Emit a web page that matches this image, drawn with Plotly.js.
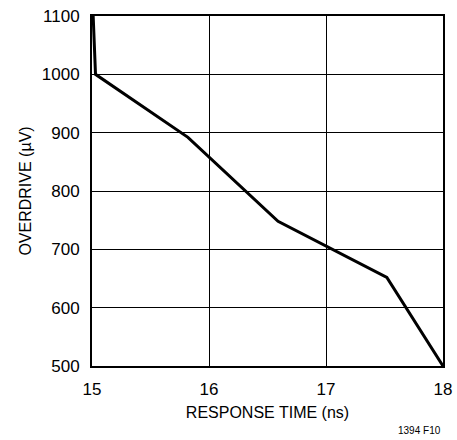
<!DOCTYPE html>
<html><head><meta charset="utf-8">
<script src="https://cdn.plot.ly/plotly-3.0.1.min.js"></script>
<style>html,body{margin:0;padding:0;background:#fff}</style>
</head><body>
<div id="chart" style="width:457px;height:440px"></div>
<script>
const responseTime = [15.01, 15.03, 15.82, 16.59, 17.52, 18.0];
const overdrive = [1100, 1000, 892, 748, 652, 500];
const xTicks = [15, 16, 17, 18];
const yTicks = [500, 600, 700, 800, 900, 1000, 1100];
const FONT = '"Liberation Sans", Arial, sans-serif';

Plotly.newPlot('chart', [{
  x: responseTime, y: overdrive, type: 'scatter', mode: 'lines',
  line: {color: '#000', width: 3}, hoverinfo: 'skip'
}], {
  width: 457, height: 440,
  margin: {l: 92, r: 14, t: 16, b: 74, pad: 0},
  paper_bgcolor: '#fff', plot_bgcolor: '#fff',
  showlegend: false,
  font: {family: FONT, color: '#000', size: 16},
  xaxis: {
    range: [15, 18], tickvals: xTicks, ticktext: xTicks.map(String),
    showgrid: true, gridcolor: '#000', gridwidth: 1,
    showline: true, linecolor: '#000', linewidth: 2, mirror: true,
    ticks: '', zeroline: false, tickfont: {size: 17}, ticklabelstandoff: 7,
    title: {text: 'RESPONSE TIME (ns)', font: {size: 16}, standoff: 8}
  },
  yaxis: {
    range: [500, 1100], tickvals: yTicks, ticktext: yTicks.map(String),
    showgrid: true, gridcolor: '#000', gridwidth: 1,
    showline: true, linecolor: '#000', linewidth: 2, mirror: true,
    ticks: '', zeroline: false, tickfont: {size: 17}, ticklabelstandoff: 7,
    title: {text: 'OVERDRIVE (µV)', font: {size: 16}, standoff: 6}
  },
  annotations: [{
    text: '1394 F10', xref: 'paper', yref: 'paper', x: 1.0, y: -0.205,
    xanchor: 'right', yanchor: 'bottom', showarrow: false,
    font: {size: 10, family: FONT, color: '#000'}
  }]
}, {staticPlot: true, displayModeBar: false});
</script>
</body></html>
